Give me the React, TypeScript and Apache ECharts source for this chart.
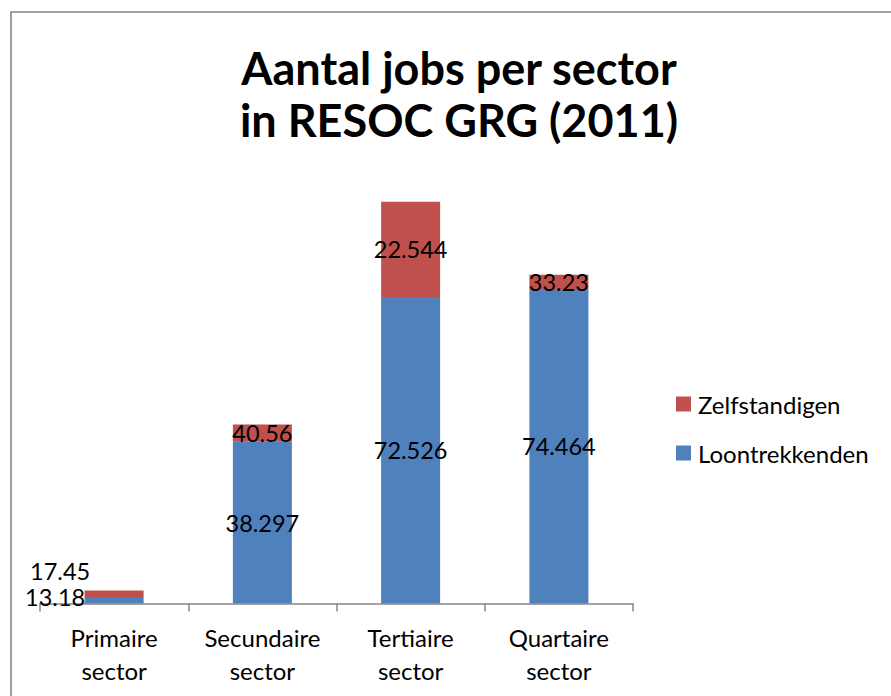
import React, { useEffect, useRef } from "react";
import * as echarts from "echarts";

const categories = ["Primaire\nsector", "Secundaire\nsector", "Tertiaire\nsector", "Quartaire\nsector"];
const loontrekkenden = [1318, 38297, 72526, 74464];
const zelfstandigen = [1745, 4056, 22544, 3323];
const loonLabels = ["13.18", "38.297", "72.526", "74.464"];
const zelfLabels = ["17.45", "40.56", "22.544", "33.23"];

const FONT = "Lato, 'Open Sans', sans-serif";

export default function App() {
  const ref = useRef<HTMLDivElement>(null);
  useEffect(() => {
    if (!ref.current) return;
    const chart = echarts.init(ref.current, null, { renderer: "svg" });
    const labelBase = {
      show: true,
      position: "inside",
      color: "#000",
      fontSize: 23.5,
      fontFamily: FONT,
    };
    chart.setOption({
      animation: false,
      backgroundColor: "#fff",
      textStyle: { fontFamily: FONT },
      title: {
        text: "Aantal jobs per sector\nin RESOC GRG (2011)",
        left: 454,
        top: 37,
        textAlign: "center",
        textStyle: { fontFamily: FONT, fontWeight: "bold", fontSize: 45, lineHeight: 52, color: "#000" },
      },
      legend: {
        orient: "vertical",
        left: 676,
        top: 392,
        padding: 0,
        data: ["Zelfstandigen", "Loontrekkenden"],
        icon: "rect",
        itemWidth: 15,
        itemHeight: 15,
        itemGap: 25,
        textStyle: { fontFamily: FONT, fontSize: 24, lineHeight: 24, color: "#000", padding: [0, 0, 0, 2] },
      },
      graphic: [
        {
          type: "rect",
          shape: { x: 11, y: 12, width: 920, height: 720 },
          style: { fill: "none", stroke: "#868686", lineWidth: 1.6 },
          silent: true,
        },
      ],
      grid: { left: 40, right: 258, top: 181, bottom: 92.5 },
      xAxis: {
        type: "category",
        data: categories,
        boundaryGap: true,
        axisLine: { lineStyle: { color: "#868686", width: 1.5 } },
        axisTick: { show: true, length: 8, lineStyle: { color: "#868686", width: 1.5 } },
        axisLabel: { fontFamily: FONT, fontSize: 24, lineHeight: 33, color: "#000", margin: 17, interval: 0 },
      },
      yAxis: {
        type: "value",
        min: 0,
        max: 100000,
        show: false,
        splitLine: { show: false },
      },
      series: [
        {
          name: "Loontrekkenden",
          type: "bar",
          stack: "total",
          barWidth: 59,
          itemStyle: { color: "#4F81BD" },
          label: labelBase,
          data: loontrekkenden.map((v, i) => ({
            value: v,
            label: {
              formatter: loonLabels[i],
              ...(i === 0 ? { offset: [-59, -4] } : {}),
            },
          })),
        },
        {
          name: "Zelfstandigen",
          type: "bar",
          stack: "total",
          barWidth: 59,
          itemStyle: { color: "#C0504D" },
          label: labelBase,
          data: zelfstandigen.map((v, i) => ({
            value: v,
            label: {
              formatter: zelfLabels[i],
              ...(i === 0 ? { offset: [-54, -23] } : {}),
            },
          })),
        },
      ],
    });
    return () => chart.dispose();
  }, []);
  return (
    <div
      ref={ref}
      style={{ position: "fixed", left: 0, top: 0, width: 891, height: 696 }}
    />
  );
}
